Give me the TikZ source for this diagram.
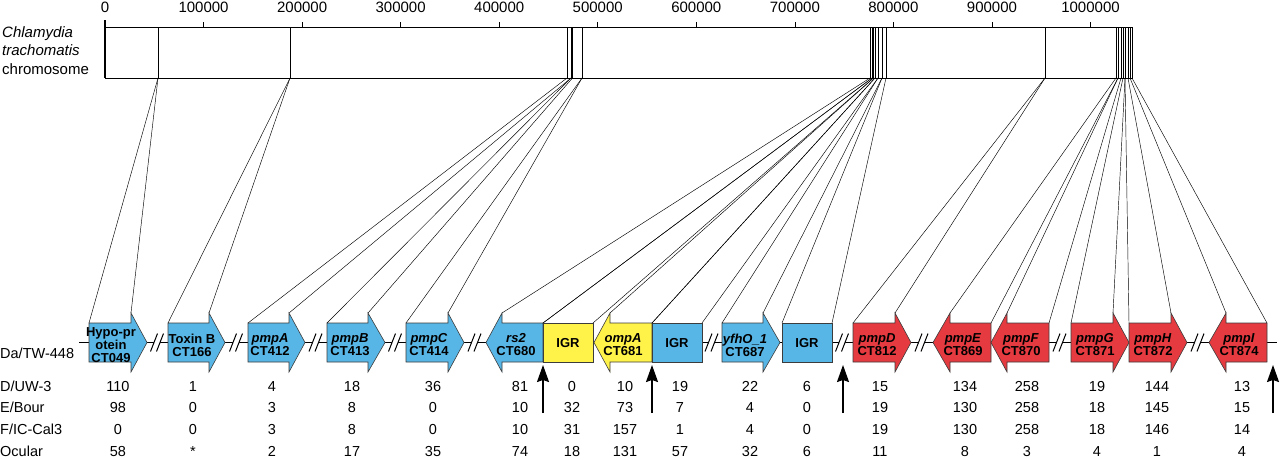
\documentclass[tikz,border=0pt]{standalone}
\usepackage{fontspec}
\setmainfont{Liberation Sans}
\usetikzlibrary{arrows.meta}

\definecolor{geneblue}{RGB}{88,182,230}
\definecolor{geneyellow}{RGB}{255,243,74}
\definecolor{genered}{RGB}{229,58,64}
\definecolor{geneedge}{RGB}{60,60,60}

\tikzset{
  bluegene/.style={fill=geneblue,draw=geneedge,line width=0.6pt},
  yellowgene/.style={fill=geneyellow,draw=geneedge,line width=0.6pt},
  redgene/.style={fill=genered,draw=geneedge,line width=0.6pt},
  genetext/.style={font=\fontsize{13}{13}\selectfont\bfseries,align=center,inner sep=0pt},
  numtext/.style={font=\fontsize{14.5}{16}\selectfont,inner sep=0pt,anchor=base},
  rowtext/.style={font=\fontsize{14.5}{16}\selectfont,inner sep=0pt,anchor=base west},
  axistext/.style={font=\fontsize{15}{17}\selectfont,inner sep=0pt,anchor=base},
  fan/.style={line width=0.45pt},
  sitearrow/.style={line width=1.6pt,-{Stealth[length=17pt,width=12pt,inset=2pt]}},
  genebreak/.pic={
    \fill[white] (-7,9) -- (0,-9) -- (6,-9) -- (-1,9) -- cycle;
    \draw[line width=1pt] (-7,9) -- (0,-9) (-1,9) -- (6,-9);
  },
}

\begin{document}
\begin{tikzpicture}[x=1pt,y=-1pt]
    \useasboundingbox (0,0) rectangle (1280,459);

    %Kromosom
        \node[axistext] (l0) at (105,12) {0};
        \node[axistext] (l1) at (203.55,12) {100000};
        \node[axistext] (l2) at (302.1,12) {200000};
        \node[axistext] (l3) at (400.65,12) {300000};
        \node[axistext] (l4) at (499.2,12) {400000};
        \node[axistext] (l5) at (597.75,12) {500000};
        \node[axistext] (l6) at (696.3,12) {600000};
        \node[axistext] (l7) at (794.85,12) {700000};
        \node[axistext] (l8) at (893.4,12) {800000};
        \node[axistext] (l9) at (991.95,12) {900000};
        \node[axistext] (l10) at (1090.5,12) {1000000};

        \node[axistext,anchor=base west] (chl) at (2,37) {\textit{Chlamydia}};
        \node[axistext,anchor=base west] (tra) at (2,55.5) {\textit{trachomatis}};
        \node[axistext,anchor=base west] (chr) at (2,74) {chromosome};

        \draw[line width=0.8pt] (105,27) rectangle (1132,78);
        \draw[line width=1.6pt] (105,20) -- (105,78);
        \draw[line width=0.6pt] (203.55,22) -- (203.55,27);
        \draw[line width=0.6pt] (302.1,22) -- (302.1,27);
        \draw[line width=0.6pt] (400.65,22) -- (400.65,27);
        \draw[line width=0.6pt] (499.2,22) -- (499.2,27);
        \draw[line width=0.6pt] (597.75,22) -- (597.75,27);
        \draw[line width=0.6pt] (696.3,22) -- (696.3,27);
        \draw[line width=0.6pt] (794.85,22) -- (794.85,27);
        \draw[line width=0.6pt] (893.4,22) -- (893.4,27);
        \draw[line width=0.6pt] (991.95,22) -- (991.95,27);
        \draw[line width=0.6pt] (1090.5,22) -- (1090.5,27);

    %Genposisjoner
        \draw[fan] (158,27) -- (158,78) coordinate (k1);
        \draw[fan] (290,27) -- (290,78) coordinate (k2);
        \draw[fan] (567,27) -- (567,78) coordinate (k3);
        \draw[fan] (571,27) -- (571,78) coordinate (k4);
        \draw[fan] (572.5,27) -- (572.5,78) coordinate (k5);
        \draw[fan] (582,27) -- (582,78) coordinate (k6);
        \draw[fan] (870,27) -- (870,78) coordinate (k7);
        \draw[fan] (872,27) -- (872,78) coordinate (k8);
        \draw[fan] (873.5,27) -- (873.5,78) coordinate (k9);
        \draw[fan] (875,27) -- (875,78) coordinate (k10);
        \draw[fan] (878,27) -- (878,78) coordinate (k11);
        \draw[fan] (882,27) -- (882,78) coordinate (k12);
        \draw[fan] (886,27) -- (886,78) coordinate (k13);
        \draw[fan] (1045,27) -- (1045,78) coordinate (k14);
        \draw[fan] (1116,27) -- (1116,78) coordinate (k16);
        \draw[fan] (1118,27) -- (1118,78) coordinate (k17);
        \draw[fan] (1121,27) -- (1121,78) coordinate (k18);
        \draw[fan] (1123,27) -- (1123,78) coordinate (k19);
        \draw[fan] (1125,27) -- (1125,78) coordinate (k20);
        \draw[fan] (1128,27) -- (1128,78) coordinate (k21);
        \draw[fan] (1130,27) -- (1130,78) coordinate (k22);
        \coordinate (k23) at (1132,78);

    %Linje
        \draw[line width=0.8pt] (79,342.5) -- (1277,342.5);

    %Gener
        \filldraw[bluegene] (89,323) coordinate (hypoL) -- (131,323) -- (131,313) coordinate (hypoR) -- (147,342.5) -- (131,372) -- (131,362) -- (89,362) -- cycle;
        \filldraw[bluegene] (168,323) coordinate (toxL) -- (209,323) -- (209,313) coordinate (toxR) -- (225,342.5) -- (209,372) -- (209,362) -- (168,362) -- cycle;
        \filldraw[bluegene] (248,323) coordinate (pmpAL) -- (289,323) -- (289,313) coordinate (pmpAR) -- (305,342.5) -- (289,372) -- (289,362) -- (248,362) -- cycle;
        \filldraw[bluegene] (327,323) coordinate (pmpBL) -- (368,323) -- (368,313) coordinate (pmpBR) -- (385,342.5) -- (368,372) -- (368,362) -- (327,362) -- cycle;
        \filldraw[bluegene] (406,323) coordinate (pmpCL) -- (448,323) -- (448,313) coordinate (pmpCR) -- (464,342.5) -- (448,372) -- (448,362) -- (406,362) -- cycle;
        \filldraw[bluegene] (543,323) coordinate (rsR) -- (502,323) -- (502,313) coordinate (rsL) -- (486,342.5) -- (502,372) -- (502,362) -- (543,362) -- cycle;
        \filldraw[yellowgene] (543,323) coordinate (igr1L) -- (593,323) coordinate (igr1R) -- (593,362) -- (543,362) -- cycle;
        \filldraw[yellowgene] (652,323) coordinate (ompR) -- (610,323) -- (610,313) coordinate (ompL) -- (594,342.5) -- (610,372) -- (610,362) -- (652,362) -- cycle;
        \filldraw[bluegene] (652,323) coordinate (igr2L) -- (702,323) coordinate (igr2R) -- (702,362) -- (652,362) -- cycle;
        \filldraw[bluegene] (722,323) coordinate (yfhL) -- (763,323) -- (763,313) coordinate (yfhR) -- (780,342.5) -- (763,372) -- (763,362) -- (722,362) -- cycle;
        \filldraw[bluegene] (782,323) coordinate (igr3L) -- (832,323) coordinate (igr3R) -- (832,362) -- (782,362) -- cycle;
        \filldraw[redgene] (853,323) coordinate (pmpDL) -- (895,323) -- (895,313) coordinate (pmpDR) -- (911,342.5) -- (895,372) -- (895,362) -- (853,362) -- cycle;
        \filldraw[redgene] (991,323) coordinate (pmpER) -- (950,323) -- (950,313) coordinate (pmpEL) -- (933,342.5) -- (950,372) -- (950,362) -- (991,362) -- cycle;
        \filldraw[redgene] (1049,323) coordinate (pmpFR) -- (1007,323) -- (1007,313) coordinate (pmpFL) -- (991,342.5) -- (1007,372) -- (1007,362) -- (1049,362) -- cycle;
        \filldraw[redgene] (1071,323) coordinate (pmpGL) -- (1113,323) -- (1113,313) coordinate (pmpGR) -- (1129,342.5) -- (1113,372) -- (1113,362) -- (1071,362) -- cycle;
        \filldraw[redgene] (1129,323) coordinate (pmpHL) -- (1171,323) -- (1171,313) coordinate (pmpHR) -- (1187,342.5) -- (1171,372) -- (1171,362) -- (1129,362) -- cycle;
        \filldraw[redgene] (1267,323) coordinate (pmpIR) -- (1226,323) -- (1226,313) coordinate (pmpIL) -- (1209,342.5) -- (1226,372) -- (1226,362) -- (1267,362) -- cycle;

        \node[genetext] (tHypo) at (111,345.5) {Hypo-pr\\otein\\CT049};
        \node[genetext] (tTox) at (192,345) {Toxin B\\CT166};
        \node[genetext] (tPmpA) at (270,345) {\textit{pmpA}\\CT412};
        \node[genetext] (tPmpB) at (350,345) {\textit{pmpB}\\CT413};
        \node[genetext] (tPmpC) at (429,345) {\textit{pmpC}\\CT414};
        \node[genetext] (tRs) at (516,345) {\textit{rs2}\\CT680};
        \node[genetext] (tIgr1) at (568,343) {IGR};
        \node[genetext] (tOmp) at (623,345) {\textit{ompA}\\CT681};
        \node[genetext] (tIgr2) at (677,343) {IGR};
        \node[genetext] (tYfh) at (745,345) {\textit{yfhO\_1}\\CT687};
        \node[genetext] (tIgr3) at (807,343) {IGR};
        \node[genetext] (tPmpD) at (877,345) {\textit{pmpD}\\CT812};
        \node[genetext] (tPmpE) at (963,345) {\textit{pmpE}\\CT869};
        \node[genetext] (tPmpF) at (1021,345) {\textit{pmpF}\\CT870};
        \node[genetext] (tPmpG) at (1095,345) {\textit{pmpG}\\CT871};
        \node[genetext] (tPmpH) at (1153,345) {\textit{pmpH}\\CT872};
        \node[genetext] (tPmpI) at (1239,345) {\textit{pmpI}\\CT874};

    %Brudd
        \pic at (157.5,342.5) {genebreak};
        \pic at (236.5,342.5) {genebreak};
        \pic at (316,342.5) {genebreak};
        \pic at (395.5,342.5) {genebreak};
        \pic at (475,342.5) {genebreak};
        \pic at (712,342.5) {genebreak};
        \pic at (842.5,342.5) {genebreak};
        \pic at (922,342.5) {genebreak};
        \pic at (1060,342.5) {genebreak};
        \pic at (1198,342.5) {genebreak};

    %Linjer
        \draw[fan] (k1) -- (hypoL);
        \draw[fan] (k1) -- (hypoR);
        \draw[fan] (k2) -- (toxL);
        \draw[fan] (k2) -- (toxR);
        \draw[fan] (k3) -- (pmpAL);
        \draw[fan] (k4) -- (pmpAR);
        \draw[fan] (k4) -- (pmpBL);
        \draw[fan] (k5) -- (pmpBR);
        \draw[fan] (k6) -- (pmpCL);
        \draw[fan] (k6) -- (pmpCR);
        \draw[fan] (k7) -- (rsL);
        \draw[fan] (k8) -- (rsR);
        \draw[fan] (k8) -- (igr1L);
        \draw[fan] (k9) -- (igr1R);
        \draw[fan] (k9) -- (ompL);
        \draw[fan] (k10) -- (ompR);
        \draw[fan] (k10) -- (igr2L);
        \draw[fan] (k11) -- (igr2R);
        \draw[fan] (k11) -- (yfhL);
        \draw[fan] (k12) -- (yfhR);
        \draw[fan] (k12) -- (igr3L);
        \draw[fan] (k13) -- (igr3R);
        \draw[fan] (k14) -- (pmpDL);
        \draw[fan] (k14) -- (pmpDR);
        \draw[fan] (k16) -- (pmpEL);
        \draw[fan] (k17) -- (pmpER);
        \draw[fan] (k17) -- (pmpFL);
        \draw[fan] (k18) -- (pmpFR);
        \draw[fan] (k19) -- (pmpGL);
        \draw[fan] (k20) -- (pmpGR);
        \draw[fan] (k20) -- (pmpHL);
        \draw[fan] (k21) -- (pmpHR);
        \draw[fan] (k22) -- (pmpIL);
        \draw[fan] (k23) -- (pmpIR);

    %Piler
        \coordinate (s1) at (543,413);
        \coordinate (h1) at (543,365);
        \coordinate (s2) at (652,413);
        \coordinate (h2) at (652,365);
        \coordinate (s3) at (843,413);
        \coordinate (h3) at (843,365);
        \coordinate (s4) at (1273,413);
        \coordinate (h4) at (1273,365);
        \draw[sitearrow] (s1) -- (h1);
        \draw[sitearrow] (s2) -- (h2);
        \draw[sitearrow] (s3) -- (h3);
        \draw[sitearrow] (s4) -- (h4);

    %Tabell
        \node[rowtext] (da) at (0,358) {Da/TW-448};
        \node[rowtext] (rD) at (0,391) {D/UW-3};
        \node[rowtext] (rE) at (0,412.5) {E/Bour};
        \node[rowtext] (rF) at (0,434) {F/IC-Cal3};
        \node[rowtext] (rO) at (0,456) {Ocular};

        \node[numtext] (a1) at (118,391) {110};
        \node[numtext] (a2) at (193,391) {1};
        \node[numtext] (a3) at (272,391) {4};
        \node[numtext] (a4) at (352,391) {18};
        \node[numtext] (a5) at (433,391) {36};
        \node[numtext] (a6) at (520,391) {81};
        \node[numtext] (a7) at (572,391) {0};
        \node[numtext] (a8) at (625,391) {10};
        \node[numtext] (a9) at (680,391) {19};
        \node[numtext] (a10) at (750,391) {22};
        \node[numtext] (a11) at (807,391) {6};
        \node[numtext] (a12) at (880,391) {15};
        \node[numtext] (a13) at (965,391) {134};
        \node[numtext] (a14) at (1027,391) {258};
        \node[numtext] (a15) at (1097,391) {19};
        \node[numtext] (a16) at (1157,391) {144};
        \node[numtext] (a17) at (1242,391) {13};

        \node[numtext] (b1) at (118,412.5) {98};
        \node[numtext] (b2) at (193,412.5) {0};
        \node[numtext] (b3) at (272,412.5) {3};
        \node[numtext] (b4) at (352,412.5) {8};
        \node[numtext] (b5) at (433,412.5) {0};
        \node[numtext] (b6) at (520,412.5) {10};
        \node[numtext] (b7) at (572,412.5) {32};
        \node[numtext] (b8) at (625,412.5) {73};
        \node[numtext] (b9) at (680,412.5) {7};
        \node[numtext] (b10) at (750,412.5) {4};
        \node[numtext] (b11) at (807,412.5) {0};
        \node[numtext] (b12) at (880,412.5) {19};
        \node[numtext] (b13) at (965,412.5) {130};
        \node[numtext] (b14) at (1027,412.5) {258};
        \node[numtext] (b15) at (1097,412.5) {18};
        \node[numtext] (b16) at (1157,412.5) {145};
        \node[numtext] (b17) at (1242,412.5) {15};

        \node[numtext] (c1) at (118,434) {0};
        \node[numtext] (c2) at (193,434) {0};
        \node[numtext] (c3) at (272,434) {3};
        \node[numtext] (c4) at (352,434) {8};
        \node[numtext] (c5) at (433,434) {0};
        \node[numtext] (c6) at (520,434) {10};
        \node[numtext] (c7) at (572,434) {31};
        \node[numtext] (c8) at (625,434) {157};
        \node[numtext] (c9) at (680,434) {1};
        \node[numtext] (c10) at (750,434) {4};
        \node[numtext] (c11) at (807,434) {0};
        \node[numtext] (c12) at (880,434) {19};
        \node[numtext] (c13) at (965,434) {130};
        \node[numtext] (c14) at (1027,434) {258};
        \node[numtext] (c15) at (1097,434) {18};
        \node[numtext] (c16) at (1157,434) {146};
        \node[numtext] (c17) at (1242,434) {14};

        \node[numtext] (d1) at (118,456) {58};
        \node[numtext] (d2) at (193,456) {*};
        \node[numtext] (d3) at (272,456) {2};
        \node[numtext] (d4) at (352,456) {17};
        \node[numtext] (d5) at (433,456) {35};
        \node[numtext] (d6) at (520,456) {74};
        \node[numtext] (d7) at (572,456) {18};
        \node[numtext] (d8) at (625,456) {131};
        \node[numtext] (d9) at (680,456) {57};
        \node[numtext] (d10) at (750,456) {32};
        \node[numtext] (d11) at (807,456) {6};
        \node[numtext] (d12) at (880,456) {11};
        \node[numtext] (d13) at (965,456) {8};
        \node[numtext] (d14) at (1027,456) {3};
        \node[numtext] (d15) at (1097,456) {4};
        \node[numtext] (d16) at (1157,456) {1};
        \node[numtext] (d17) at (1242,456) {4};

\end{tikzpicture}
\end{document}
